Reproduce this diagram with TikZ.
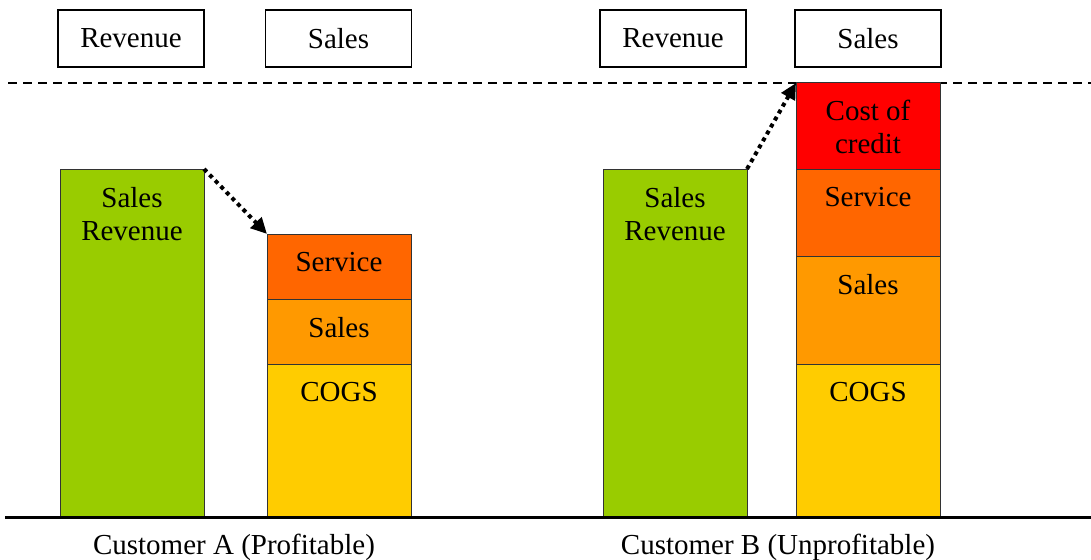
\documentclass[tikz,border=0pt]{standalone}
\usepackage{fontspec}
\setmainfont{Liberation Serif}
\usetikzlibrary{arrows.meta}
\definecolor{revgreen}{HTML}{99CC00}
\definecolor{servorange}{HTML}{FF6600}
\definecolor{salesorange}{HTML}{FF9900}
\definecolor{cogsyellow}{HTML}{FFCC00}
\definecolor{creditred}{HTML}{FF0000}
\begin{document}
\begin{tikzpicture}[x=1pt,y=-1pt,font=\fontsize{29}{33}\selectfont,
    headbox/.style={draw,line width=1.5pt,minimum width=146pt,minimum height=57pt,outer sep=0pt,inner sep=0pt},
    bar/.style={draw=black!80,line width=1pt,anchor=north west,minimum width=144pt,outer sep=0pt,inner sep=0pt},
    barlbl/.style={anchor=north,align=center,inner sep=0pt},
    costarrow/.style={line width=4pt,dash pattern=on 4pt off 4pt,-{Triangle[length=16pt,width=15pt]}}]
        \useasboundingbox (0,0) rectangle (1091,559);
        % header boxes
        \node[headbox] (revA) at (131,38.5) {Revenue};
        \node[headbox] (salA) at (338.5,38.5) {Sales};
        \node[headbox] (revB) at (673,38.5) {Revenue};
        \node[headbox] (salB) at (868,38.5) {Sales};
        % revenue level
        \coordinate (dashL) at (8,83);
        \coordinate (dashR) at (1091,83);
        \draw[line width=1.2pt,dash pattern=on 9pt off 6pt] (dashL) -- (dashR);
        % customer A
        \node[bar,fill=revgreen,minimum height=348pt] (greenA) at (60,169) {};
        \node[bar,fill=servorange,minimum height=65pt] (servA) at (267,234) {};
        \node[bar,fill=salesorange,minimum height=65pt] (salesA) at (267,299) {};
        \node[bar,fill=cogsyellow,minimum height=153pt] (cogsA) at (267,364) {};
        \node[barlbl] at ([yshift=-18pt]greenA.north) {Sales\\Revenue};
        \node[barlbl] at ([yshift=-18pt]servA.north) {Service};
        \node[barlbl] at ([yshift=-18pt]salesA.north) {Sales};
        \node[barlbl] at ([yshift=-18pt]cogsA.north) {COGS};
        % customer B
        \node[bar,fill=revgreen,minimum height=348pt] (greenB) at (603,169) {};
        \node[bar,fill=creditred,minimum height=86pt] (credB) at (796,83) {};
        \node[bar,fill=servorange,minimum height=87pt] (servB) at (796,169) {};
        \node[bar,fill=salesorange,minimum height=108pt] (salesB) at (796,256) {};
        \node[bar,fill=cogsyellow,minimum height=153pt] (cogsB) at (796,364) {};
        \node[barlbl] at ([yshift=-18pt]greenB.north) {Sales\\Revenue};
        \node[barlbl] at ([yshift=-17pt]credB.north) {Cost of\\credit};
        \node[barlbl] at ([yshift=-18pt]servB.north) {Service};
        \node[barlbl] at ([yshift=-18pt]salesB.north) {Sales};
        \node[barlbl] at ([yshift=-18pt]cogsB.north) {COGS};
        % arrows
        \draw[costarrow] (greenA.north east) -- (servA.north west);
        \draw[costarrow] (greenB.north east) -- (credB.north west);
        % base line
        \coordinate (baseL) at (5,517);
        \coordinate (baseR) at (1091,517);
        \draw[line width=3pt] (baseL) -- (baseR);
        \node[anchor=base,inner sep=0pt] (custA) at (234,554) {Customer A (Profitable)};
        \node[anchor=base,inner sep=0pt] (custB) at (778,554) {Customer B (Unprofitable)};
\end{tikzpicture}
\end{document}
